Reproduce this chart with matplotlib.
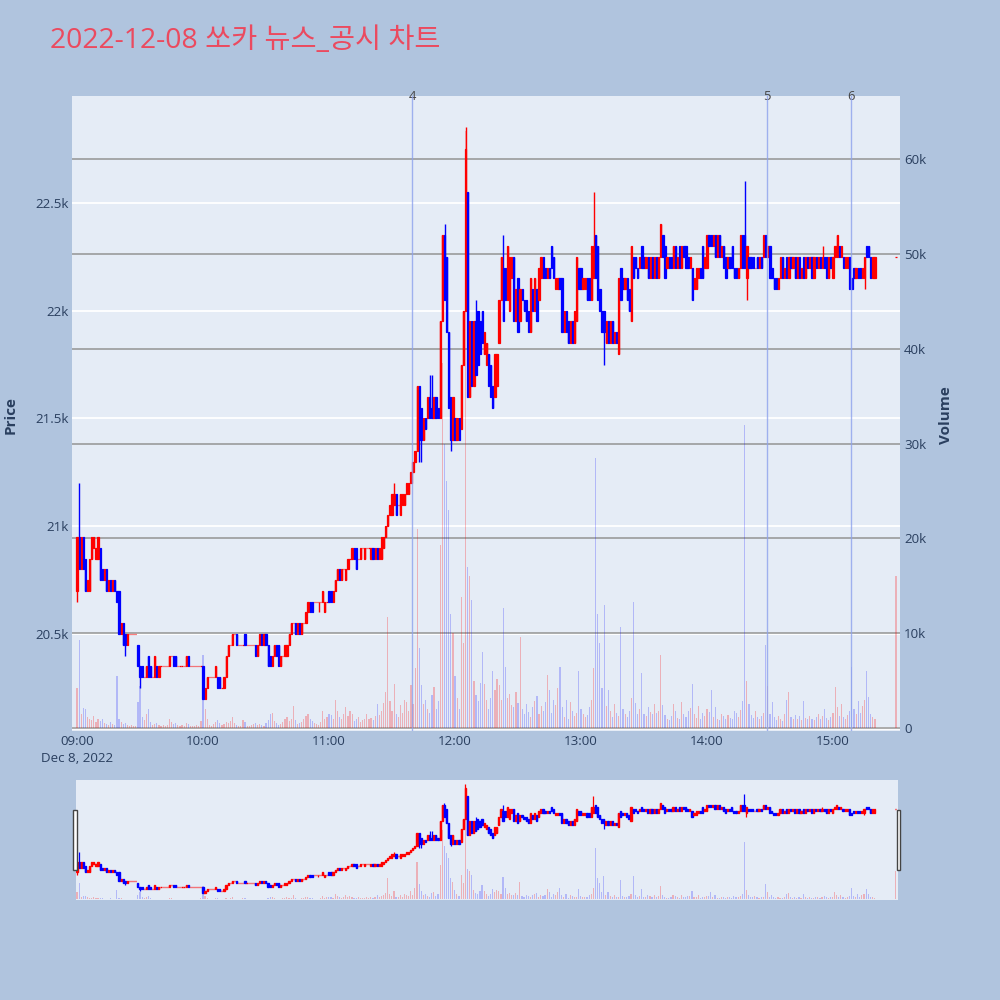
import numpy as np
import pandas as pd
import matplotlib
matplotlib.use("Agg")
import matplotlib.pyplot as plt
import matplotlib.dates as mdates
from matplotlib.patches import Rectangle
from matplotlib.ticker import FuncFormatter, MultipleLocator

plt.rcParams["font.family"] = ["Open Sans", "Noto Sans CJK KR", "DejaVu Sans"]

# ----------------------------------------------------------------------
# Data: 1-minute bars 09:00-15:20 plus the 15:30 closing auction
# ----------------------------------------------------------------------
times = pd.date_range("2022-12-08 09:00", "2022-12-08 15:20", freq="min").append(
    pd.DatetimeIndex(["2022-12-08 15:30"]))

opens = [
    20700, 20950, 20800, 20950, 20850, 20700, 20700, 20850, 20900, 20850,
    20850, 20900, 20800, 20750, 20800, 20700, 20750, 20700, 20750, 20700,
    20700, 20500, 20550, 20500, 20450, 20500, 20500, 20500, 20500, 20450,
    20350, 20350, 20300, 20300, 20400, 20350, 20300, 20300, 20350, 20300,
    20350, 20350, 20350, 20350, 20350, 20400, 20400, 20400, 20350, 20350,
    20350, 20350, 20350, 20400, 20350, 20350, 20350, 20350, 20350, 20350,
    20350, 20200, 20250, 20300, 20300, 20300, 20300, 20300, 20300, 20250,
    20250, 20300, 20400, 20450, 20450, 20500, 20500, 20450, 20450, 20450,
    20500, 20450, 20450, 20450, 20450, 20450, 20400, 20450, 20500, 20450,
    20500, 20450, 20400, 20350, 20400, 20450, 20450, 20350, 20400, 20400,
    20400, 20450, 20500, 20550, 20550, 20500, 20550, 20500, 20550, 20550,
    20600, 20650, 20650, 20650, 20650, 20650, 20650, 20650, 20600, 20650,
    20700, 20700, 20650, 20700, 20750, 20800, 20750, 20800, 20750, 20800,
    20850, 20850, 20900, 20900, 20850, 20850, 20900, 20850, 20900, 20900,
    20850, 20900, 20850, 20900, 20850, 20850, 20900, 20950, 21000, 21050,
    21050, 21100, 21150, 21100, 21050, 21100, 21100, 21150, 21150, 21200,
    21250, 21300, 21350, 21650, 21550, 21400, 21500, 21500, 21600, 21550,
    21500, 21600, 21550, 21500, 21950, 22350, 22250, 21900, 21600, 21400,
    21500, 21400, 21500, 21450, 21750, 22000, 22550, 21600, 21950, 21650,
    21950, 22000, 21950, 22000, 21800, 21750, 21800, 21750, 21650, 21600,
    21650, 21850, 22050, 22200, 22200, 22050, 22000, 22150, 22250, 21950,
    22150, 21950, 22100, 22050, 22050, 22000, 21900, 22100, 22000, 22100,
    22050, 22150, 22250, 22200, 22150, 22200, 22300, 22250, 22100, 22100,
    22150, 22150, 21900, 22000, 21950, 21850, 21950, 21850, 21950, 22200,
    22200, 22100, 22100, 22150, 22150, 22050, 22150, 22350, 22300, 22100,
    22000, 22000, 21850, 21950, 21850, 21950, 21850, 21900, 21800, 22200,
    22150, 22100, 22150, 22100, 21950, 22250, 22250, 22200, 22200, 22300,
    22250, 22200, 22250, 22150, 22250, 22150, 22250, 22150, 22250, 22350,
    22300, 22200, 22250, 22250, 22200, 22300, 22200, 22300, 22200, 22300,
    22300, 22250, 22200, 22200, 22100, 22100, 22150, 22200, 22300, 22200,
    22200, 22350, 22350, 22300, 22350, 22250, 22350, 22250, 22300, 22250,
    22200, 22250, 22300, 22200, 22200, 22150, 22200, 22350, 22350, 22150,
    22250, 22250, 22250, 22200, 22250, 22200, 22250, 22250, 22350, 22250,
    22300, 22200, 22150, 22150, 22100, 22150, 22250, 22150, 22250, 22150,
    22250, 22200, 22250, 22150, 22250, 22150, 22250, 22150, 22250, 22200,
    22250, 22150, 22250, 22200, 22250, 22200, 22250, 22250, 22150, 22250,
    22150, 22250, 22250, 22300, 22250, 22250, 22200, 22200, 22250, 22150,
    22200, 22150, 22200, 22200, 22150, 22150, 22300, 22300, 22250, 22150,
    22150, 22250,
]

closes = [
    20950, 20800, 20950, 20800, 20700, 20750, 20850, 20950, 20950, 20900,
    20950, 20750, 20750, 20800, 20700, 20750, 20700, 20750, 20700, 20650,
    20500, 20550, 20450, 20450, 20500, 20500, 20500, 20500, 20500, 20350,
    20300, 20300, 20300, 20350, 20300, 20300, 20300, 20400, 20300, 20350,
    20350, 20350, 20350, 20350, 20400, 20400, 20350, 20350, 20350, 20350,
    20350, 20350, 20400, 20350, 20350, 20350, 20350, 20350, 20350, 20350,
    20200, 20250, 20300, 20300, 20300, 20300, 20350, 20250, 20250, 20250,
    20300, 20400, 20450, 20450, 20500, 20500, 20450, 20450, 20450, 20450,
    20450, 20450, 20450, 20450, 20450, 20400, 20450, 20500, 20450, 20500,
    20450, 20350, 20350, 20400, 20450, 20400, 20350, 20400, 20400, 20450,
    20450, 20500, 20550, 20550, 20500, 20550, 20500, 20550, 20550, 20600,
    20650, 20600, 20600, 20650, 20650, 20650, 20650, 20700, 20650, 20650,
    20650, 20650, 20700, 20750, 20800, 20750, 20800, 20800, 20800, 20850,
    20850, 20900, 20850, 20800, 20850, 20900, 20900, 20900, 20900, 20900,
    20900, 20850, 20900, 20850, 20900, 20950, 20950, 21000, 21050, 21100,
    21150, 21150, 21050, 21100, 21150, 21150, 21150, 21200, 21200, 21250,
    21300, 21350, 21650, 21400, 21400, 21500, 21450, 21600, 21500, 21500,
    21600, 21500, 21500, 21950, 22350, 22050, 21900, 21550, 21400, 21600,
    21400, 21500, 21400, 21750, 22000, 22750, 21600, 21950, 21650, 21950,
    21700, 21750, 21800, 21850, 21900, 21850, 21650, 21600, 21550, 21800,
    21800, 22050, 22250, 21950, 22050, 22300, 22250, 22250, 21950, 22100,
    21900, 22100, 22050, 22000, 21950, 21900, 22150, 22000, 22150, 21950,
    22200, 22250, 22150, 22150, 22200, 22150, 22200, 22150, 22150, 22150,
    22100, 21900, 22000, 21900, 21850, 21950, 21850, 22000, 22250, 22100,
    22100, 22150, 22150, 22050, 22050, 22300, 22300, 22150, 22050, 22000,
    21900, 21900, 21950, 21850, 21950, 21850, 21900, 21850, 22150, 22050,
    22100, 22150, 22050, 22000, 22300, 22150, 22200, 22150, 22250, 22200,
    22200, 22250, 22150, 22250, 22150, 22250, 22150, 22250, 22400, 22250,
    22150, 22250, 22200, 22200, 22300, 22200, 22250, 22200, 22300, 22250,
    22200, 22200, 22250, 22050, 22150, 22200, 22200, 22150, 22150, 22250,
    22350, 22300, 22300, 22350, 22250, 22350, 22250, 22300, 22200, 22150,
    22250, 22200, 22200, 22150, 22150, 22200, 22350, 22200, 22200, 22300,
    22200, 22200, 22200, 22200, 22200, 22250, 22200, 22350, 22250, 22300,
    22150, 22150, 22100, 22100, 22150, 22250, 22150, 22200, 22150, 22250,
    22200, 22250, 22150, 22250, 22150, 22200, 22150, 22250, 22200, 22250,
    22150, 22250, 22200, 22250, 22200, 22250, 22200, 22150, 22250, 22200,
    22250, 22300, 22350, 22250, 22300, 22200, 22250, 22250, 22100, 22100,
    22150, 22200, 22150, 22150, 22200, 22250, 22250, 22250, 22150, 22250,
    22250, 22250,
]

# bars whose wick reaches beyond the body (bar index -> price)
high_wicks = {1: 21200, 34: 20400, 151: 21200, 168: 21700, 169: 21700,
              175: 22400, 185: 22850, 190: 22050, 202: 22250, 203: 22350,
              246: 22550, 318: 22600, 355: 22300}
low_wicks = {0: 20650, 23: 20400, 30: 20250, 115: 20600, 163: 21300,
             164: 21300, 178: 21350, 251: 21750, 319: 22050, 375: 22100}

volumes = [
    4200, 9300, 1500, 2100, 2000, 1200, 1000, 800, 1300, 600,
    900, 700, 1000, 500, 400, 300, 600, 400, 300, 5500,
    1000, 600, 400, 500, 300, 200, 300, 200, 200, 2700,
    4400, 1200, 800, 1500, 2000, 600, 300, 400, 500, 300,
    200, 300, 200, 300, 900, 600, 400, 500, 300, 200,
    300, 200, 500, 400, 200, 200, 200, 300, 200, 700,
    7700, 2000, 900, 300, 200, 400, 600, 800, 500, 300,
    400, 600, 500, 700, 1200, 500, 300, 200, 200, 800,
    600, 200, 200, 300, 400, 500, 300, 400, 300, 200,
    500, 800, 1500, 1600, 700, 500, 300, 400, 600, 900,
    1200, 700, 1000, 2300, 800, 400, 500, 600, 900, 1300,
    1500, 900, 700, 500, 400, 300, 600, 1800, 900, 1200,
    1500, 1400, 900, 3000, 1800, 1200, 900, 1500, 2200, 1300,
    1800, 1500, 700, 900, 1200, 600, 800, 1000, 1500, 900,
    1100, 800, 1300, 2500, 1400, 1800, 2600, 3800, 11700, 2900,
    1800, 4600, 1500, 1200, 2400, 1600, 3000, 2700, 1800, 4500,
    2500, 6300, 21000, 8400, 4500, 2500, 3000, 2000, 1600, 3500,
    4300, 2000, 2800, 19300, 38500, 30000, 26000, 23000, 12000, 10000,
    5500, 3200, 2000, 13800, 9000, 63000, 17000, 16000, 13500, 5000,
    3500, 2800, 4700, 8000, 4600, 3000, 2000, 3200, 6000, 4000,
    5200, 4500, 3000, 12700, 6400, 3200, 3600, 2400, 2200, 3800,
    2600, 9600, 2000, 1500, 2500, 1700, 1200, 2200, 2800, 3400,
    1500, 2300, 1800, 2700, 5600, 4000, 1600, 3000, 2400, 4200,
    6400, 2200, 1200, 3000, 900, 2700, 1800, 1300, 1600, 6000,
    2000, 1500, 1200, 1400, 2200, 3000, 6300, 28500, 12000, 9000,
    4200, 13000, 2300, 4000, 1800, 1200, 2500, 1600, 1300, 10700,
    2000, 1500, 1200, 1800, 3200, 13300, 2600, 1500, 2000, 5800,
    1500, 1300, 2200, 1700, 1500, 2500, 1600, 1800, 7700, 2400,
    1400, 1000, 800, 1300, 2500, 1800, 1100, 900, 2700, 1500,
    1200, 1800, 2100, 4600, 1500, 1100, 2300, 900, 1600, 1300,
    2000, 1700, 4000, 1200, 2200, 1000, 800, 1500, 1300, 900,
    1400, 1100, 900, 1800, 1600, 1200, 1900, 2800, 32000, 5000,
    2500, 1400, 1100, 1800, 1200, 900, 1300, 1600, 8800, 4400,
    1500, 2700, 1200, 800, 1300, 1000, 700, 1500, 3000, 3800,
    1200, 900, 1400, 1000, 1300, 800, 2800, 1100, 900, 1300,
    1000, 800, 1200, 1500, 900, 1300, 2000, 1100, 800, 1200,
    1600, 4300, 2200, 1300, 2500, 1200, 1000, 1400, 1800, 6400,
    2000, 1500, 2800, 1600, 2300, 3000, 6000, 3300, 1500, 1200,
    900, 16000,
]

news_times = ["2022-12-08 11:39:30", "2022-12-08 14:28:30", "2022-12-08 15:08:30"]
news_labels = ["4", "5", "6"]

title = "2022-12-08 쏘카 뉴스_공시 차트"

# ----------------------------------------------------------------------
# Derived series for drawing
# ----------------------------------------------------------------------
o = np.array(opens, dtype=float)
c = np.array(closes, dtype=float)
h = np.maximum(o, c)
l = np.minimum(o, c)
for i, v in high_wicks.items():
    h[i] = max(h[i], v)
for i, v in low_wicks.items():
    l[i] = min(l[i], v)

# plotly-style direction: up if close > open, flat bars follow previous close
up = np.zeros(len(c), dtype=bool)
for i in range(len(c)):
    if c[i] > o[i]:
        up[i] = True
    elif c[i] == o[i]:
        up[i] = c[i] >= (c[i - 1] if i else o[i])

RED, BLUE = "#ff0000", "#0000ff"
cols = np.where(up, RED, BLUE)
vcols = [(1, 0, 0, 0.25) if u else (0, 0, 1, 0.22) for u in up]

x = mdates.date2num(times.to_pydatetime())
MIN = 1.0 / 1440.0
base = mdates.date2num(pd.Timestamp("2022-12-08 09:00").to_pydatetime())

BG = "#b0c4de"
PLOT_BG = "#e5ecf6"
TXT = "#2a3f5f"
TICK_FS = 9.6

fig = plt.figure(figsize=(10, 10), dpi=100, facecolor=BG)


def draw_candles(ax, body_w, wick_lw, edge_lw):
    ax.vlines(x, l, h, colors=cols, lw=wick_lw, zorder=3)
    ax.bar(x, c - o, bottom=o, width=body_w, color=cols, edgecolor=cols,
           linewidth=edge_lw, zorder=4)


# ----------------------------------------------------------------------
# Main panel: price grid axes, volume twin, candle overlay
# ----------------------------------------------------------------------
rect = [0.072, 0.269, 0.828, 0.635]
ax_p = fig.add_axes(rect, facecolor=PLOT_BG)
ax_v = ax_p.twinx()
ax_c = fig.add_axes(rect, sharex=ax_p, sharey=ax_p)
ax_c.patch.set_visible(False)
ax_c.axis("off")

xlim = (base - 2.4 * MIN, base + 391.9 * MIN)
ax_p.set_xlim(*xlim)
ax_p.set_ylim(20050, 22996)
ax_v.set_ylim(-316, 66644)

ax_p.yaxis.set_major_locator(MultipleLocator(500))
ax_p.yaxis.set_major_formatter(FuncFormatter(lambda v, _: f"{v / 1000:g}k"))
ax_p.grid(axis="y", color="white", lw=1.3)
ax_p.set_axisbelow(True)

ax_v.yaxis.set_major_locator(MultipleLocator(10000))
ax_v.yaxis.set_major_formatter(
    FuncFormatter(lambda v, _: "0" if v == 0 else f"{v / 1000:g}k"))
ax_v.grid(axis="y", color="#8c8c8c", lw=1.2, alpha=0.85)
ax_v.axhline(0, color="white", lw=2.0, zorder=1)
ax_v.bar(x, volumes, width=0.55 * MIN, color=vcols, linewidth=0, zorder=2)

draw_candles(ax_c, 0.6 * MIN, 1.0, 0.9)

for t, lab in zip(news_times, news_labels):
    xn = mdates.date2num(pd.Timestamp(t).to_pydatetime())
    ax_c.axvline(xn, color="#8da2ec", lw=1.0, alpha=0.8, zorder=5)
    ax_c.text(xn, 1.0, lab, transform=ax_c.get_xaxis_transform(),
              ha="center", va="center", fontsize=9.4, color="#444444",
              clip_on=False)

ax_p.xaxis.set_major_locator(mdates.HourLocator(byhour=range(9, 16)))


def fmt_time(v, pos):
    d = mdates.num2date(v)
    s = d.strftime("%H:%M")
    if d.hour == 9:
        s += "\nDec 8, 2022"
    return s


ax_p.xaxis.set_major_formatter(FuncFormatter(fmt_time))

for ax in (ax_p, ax_v):
    for s in ax.spines.values():
        s.set_visible(False)
    ax.tick_params(length=0, labelsize=TICK_FS, labelcolor=TXT)
ax_p.tick_params(axis="y", pad=2)
ax_v.tick_params(axis="y", pad=3)
ax_p.tick_params(axis="x", pad=3)
for lab in ax_p.get_xticklabels():
    lab.set_linespacing(1.35)

fig.text(0.011, 0.585, "Price", rotation=90, ha="center", va="center",
         fontsize=11, fontweight="bold", color=TXT)
fig.text(0.946, 0.585, "Volume", rotation=90, ha="center", va="center",
         fontsize=11, fontweight="bold", color=TXT)

fig.text(0.05, 0.959, title, ha="left", va="center", fontsize=20.4,
         color="#eb4a5f")

# ----------------------------------------------------------------------
# Range slider
# ----------------------------------------------------------------------
ax_s = fig.add_axes([0.076, 0.100, 0.822, 0.120], facecolor=PLOT_BG)
ax_s2 = ax_s.twinx()
ax_s.set_xlim(base - 0.5 * MIN, base + 391.2 * MIN)
ax_s.set_ylim(-316, 66644)
ax_s2.set_ylim(20030, 22950)
ax_s.bar(x, volumes, width=0.55 * MIN, color=vcols, linewidth=0)
ax_s2.vlines(x, l, h, colors=cols, lw=0.9)
ax_s2.bar(x, c - o, bottom=o, width=0.55 * MIN, color=cols, edgecolor=cols,
          linewidth=1.0)
for ax in (ax_s, ax_s2):
    ax.set_xticks([])
    ax.set_yticks([])
    for s in ax.spines.values():
        s.set_visible(False)

for hx in (0.0733, 0.8965):
    fig.patches.append(Rectangle((hx, 0.130), 0.0037, 0.060,
                                 transform=fig.transFigure, facecolor="white",
                                 edgecolor="#444444", lw=1.0, zorder=10))

fig.savefig("out.png", dpi=100, facecolor=BG)
